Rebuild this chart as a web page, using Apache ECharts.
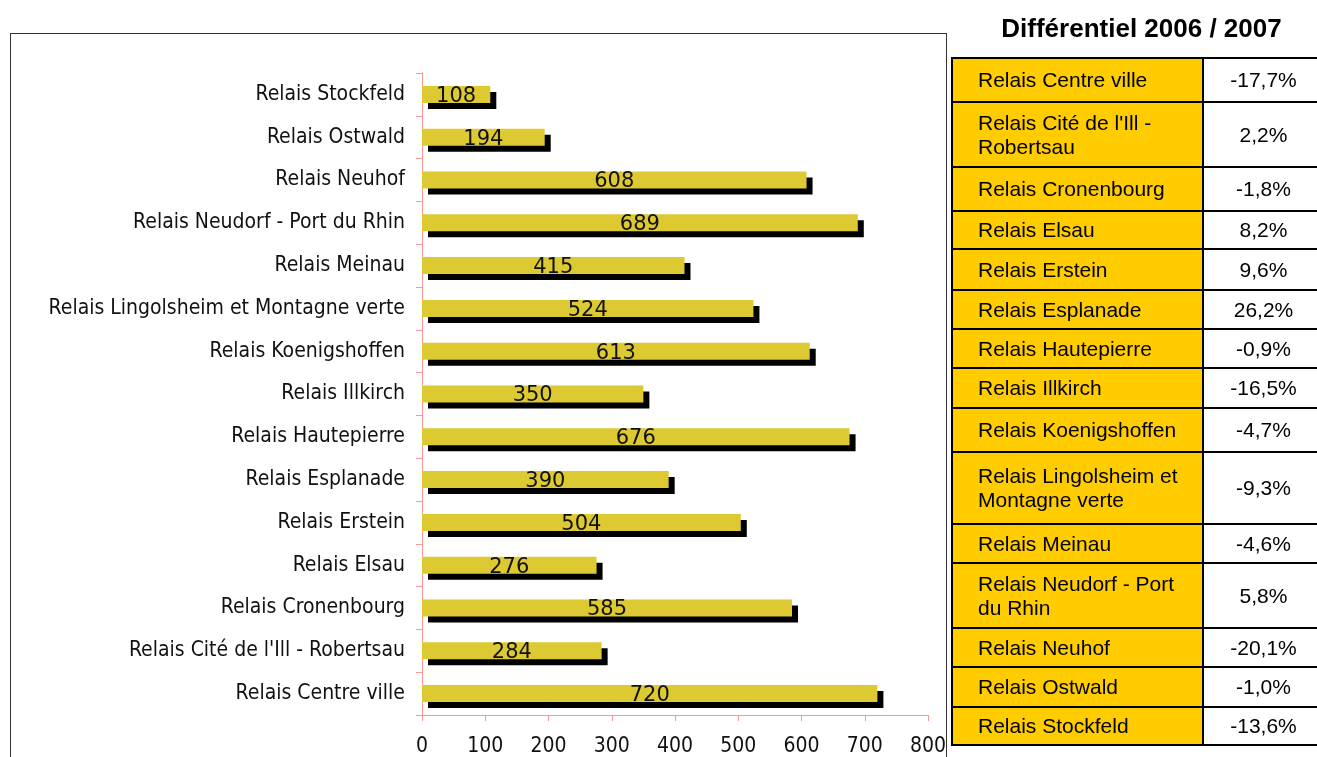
<!DOCTYPE html>
<html>
<head>
<meta charset="utf-8">
<script src="https://cdn.jsdelivr.net/npm/echarts@6/dist/echarts.min.js"></script>
<style>
  html, body { margin: 0; padding: 0; width: 1317px; height: 757px; overflow: hidden; background: #fff; }
  .frame { position: absolute; left: 10px; top: 33px; width: 937px; height: 800px; border: 1px solid #333; box-sizing: border-box; }
  #chart { position: absolute; left: 0; top: 0; width: 1317px; height: 757px; }
  .diff_title { position: absolute; left: 952px; top: 13px; width: 379px; text-align: center;
    font: bold 26px "Liberation Sans", Arial, sans-serif; color: #000; }
  table.diff { position: absolute; left: 951px; top: 57px; width: 374px; border-collapse: collapse;
    font: 21px "Liberation Sans", Arial, sans-serif; color: #000; }
  table.diff td { border: 2px solid #000; padding: 0; line-height: 24px; vertical-align: middle; }
  table.diff td.name { background: #ffcc00; width: 224px; padding-left: 25px; white-space: pre-line; }
  table.diff td.val { background: #fff; text-align: center; }
</style>
</head>
<body>
<div class="frame"></div>
<div id="chart"></div>
<div class="diff_title">Différentiel 2006 / 2007</div>
<table class="diff" id="diff"></table>
<script>
// bar chart (bottom -> top)
let categories = [
  'Relais Centre ville',
  "Relais Cité de l'Ill - Robertsau",
  'Relais Cronenbourg',
  'Relais Elsau',
  'Relais Erstein',
  'Relais Esplanade',
  'Relais Hautepierre',
  'Relais Illkirch',
  'Relais Koenigshoffen',
  'Relais Lingolsheim et Montagne verte',
  'Relais Meinau',
  'Relais Neudorf - Port du Rhin',
  'Relais Neuhof',
  'Relais Ostwald',
  'Relais Stockfeld',
]
let values = [720, 284, 585, 276, 504, 390, 676, 350, 613, 524, 415, 689, 608, 194, 108]
let xTicks = [0, 100, 200, 300, 400, 500, 600, 700, 800]

// table on the right
let tableNames = [
  'Relais Centre ville',
  "Relais Cité de l'Ill -\nRobertsau",
  'Relais Cronenbourg',
  'Relais Elsau',
  'Relais Erstein',
  'Relais Esplanade',
  'Relais Hautepierre',
  'Relais Illkirch',
  'Relais Koenigshoffen',
  'Relais Lingolsheim et\nMontagne verte',
  'Relais Meinau',
  'Relais Neudorf - Port\ndu Rhin',
  'Relais Neuhof',
  'Relais Ostwald',
  'Relais Stockfeld',
]
let tableDiffs = ['-17,7%', '2,2%', '-1,8%', '8,2%', '9,6%', '26,2%', '-0,9%', '-16,5%',
  '-4,7%', '-9,3%', '-4,6%', '5,8%', '-20,1%', '-1,0%', '-13,6%']

// row heights of the table (layout only)
const rowHeights = [44, 65, 44, 38, 41, 39, 39, 40, 44, 72, 39, 65, 39, 40, 38]

const tbl = document.getElementById('diff')
tableNames.forEach((n, i) => {
  const tr = document.createElement('tr')
  tr.style.height = rowHeights[i] + 'px'
  const a = document.createElement('td')
  a.className = 'name'
  a.textContent = n
  const b = document.createElement('td')
  b.className = 'val'
  b.textContent = tableDiffs[i]
  tr.appendChild(a)
  tr.appendChild(b)
  tbl.appendChild(tr)
})

const axisPink = '#ff9494'
const labelFont = '"DejaVu Sans Condensed", "DejaVu Sans", sans-serif'

const myChart = echarts.init(document.getElementById('chart'))
myChart.setOption({
  animation: false,
  grid: {
    left: 422,
    right: 389,
    top: 73,
    bottom: 42,
  },
  xAxis: {
    type: 'value',
    min: xTicks[0],
    max: xTicks[xTicks.length - 1],
    interval: xTicks[1] - xTicks[0],
    axisLine: { show: true, lineStyle: { color: axisPink, width: 1 } },
    axisTick: { show: true, length: 6, lineStyle: { color: axisPink } },
    splitLine: { show: false },
    axisLabel: {
      color: '#111',
      fontSize: 21,
      fontFamily: labelFont,
      margin: 21,
    },
  },
  yAxis: {
    type: 'category',
    data: categories,
    axisLine: { show: true, lineStyle: { color: axisPink, width: 1 } },
    axisTick: { show: true, length: 6, lineStyle: { color: axisPink } },
    axisLabel: {
      color: '#111',
      fontSize: 21,
      fontFamily: labelFont,
      margin: 17,
    },
  },
  series: [
    {
      type: 'bar',
      data: values,
      barWidth: 17,
      itemStyle: {
        color: '#ddca32',
        shadowColor: '#000',
        shadowBlur: 0,
        shadowOffsetX: 6,
        shadowOffsetY: 6,
      },
      label: {
        show: true,
        position: 'inside',
        color: '#111',
        fontSize: 21,
        fontFamily: '"DejaVu Sans", sans-serif',
        offset: [0, 2],
      },
    },
  ],
})
</script>
</body>
</html>
